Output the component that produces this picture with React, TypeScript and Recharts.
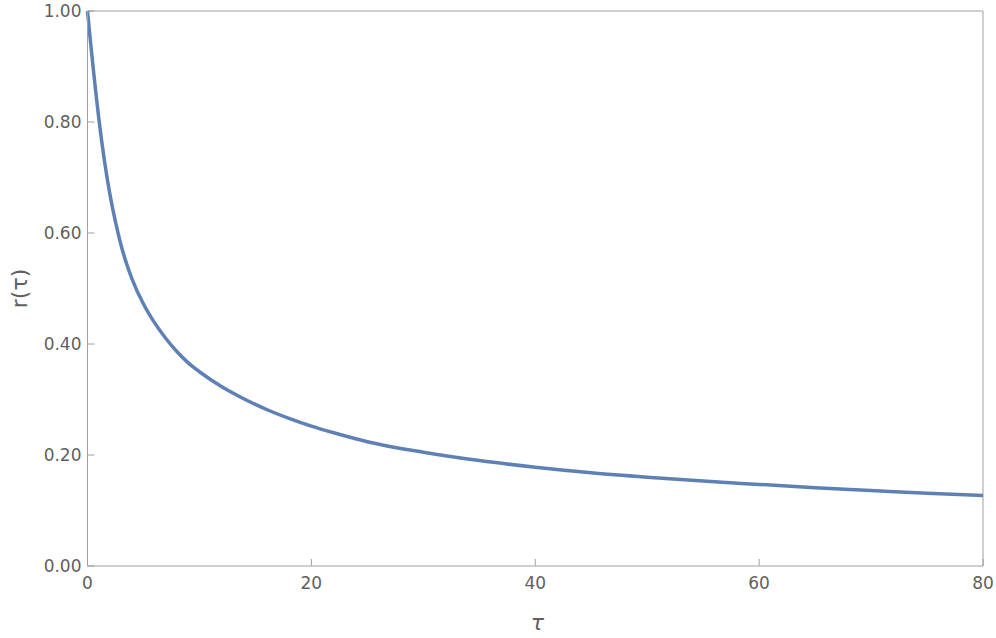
import React from "react";
import {
  LineChart,
  Line,
  XAxis,
  YAxis,
  ReferenceLine,
  Label,
} from "recharts";

// values
const tau = [
  0, 0.25, 0.5, 0.75, 1, 1.25, 1.5, 2, 2.5, 3, 3.5, 4, 5, 6, 7, 8, 9, 10, 12,
  14, 16, 18, 20, 22, 25, 30, 35, 40, 45, 50, 55, 60, 65, 70, 75, 80,
];
const r = [
  1.0, 0.948, 0.899, 0.852, 0.808, 0.768, 0.732, 0.67, 0.62, 0.578, 0.544,
  0.516, 0.472, 0.438, 0.41, 0.386, 0.366, 0.35, 0.323, 0.301, 0.282, 0.266,
  0.252, 0.24, 0.224, 0.205, 0.19, 0.178, 0.168, 0.16, 0.153, 0.147, 0.141,
  0.136, 0.131, 0.127,
];
const xTicks = [0, 20, 40, 60, 80];
const yTicks = [0, 0.2, 0.4, 0.6, 0.8, 1.0];

const data = tau.map((t, i) => ({ tau: t, r: r[i] }));

const AXIS = "#a0a0a0";
const TEXT = "#5f5f5f";
const FONT = "'DejaVu Sans', sans-serif";
const TICK_LEN = 7;
const X_MARGIN = 11;
const Y_MARGIN = 6;

const XTick = (props: any) => {
  const { x, y, payload } = props;
  const axisY = y - X_MARGIN;
  return (
    <g>
      <line x1={x} x2={x} y1={axisY} y2={axisY - TICK_LEN} stroke={AXIS} />
      <text
        x={x}
        y={y}
        dy="0.73em"
        textAnchor="middle"
        fill={TEXT}
        fontSize={17}
        fontFamily={FONT}
      >
        {payload.value}
      </text>
    </g>
  );
};

const YTick = (props: any) => {
  const { x, y, payload } = props;
  const axisX = x + Y_MARGIN;
  return (
    <g>
      <line x1={axisX} x2={axisX + TICK_LEN} y1={y} y2={y} stroke={AXIS} />
      <text
        x={x}
        y={y}
        dy="0.36em"
        textAnchor="end"
        fill={TEXT}
        fontSize={17}
        fontFamily={FONT}
      >
        {payload.value.toFixed(2)}
      </text>
    </g>
  );
};

const App = () => {
  return (
    <div style={{ position: "absolute", left: 0, top: 0 }}>
      <LineChart
        width={996}
        height={638}
        data={data}
        margin={{ top: 11, right: 13, left: 0, bottom: 0 }}
      >
        <XAxis
          dataKey="tau"
          type="number"
          domain={[0, 80]}
          ticks={xTicks}
          tickSize={0}
          tickMargin={X_MARGIN}
          tick={<XTick />}
          stroke={AXIS}
          height={72}
          interval={0}
        >
          <Label
            content={(p: any) => (
              <text
                x={p.viewBox.x + p.viewBox.width / 2 + 2}
                y={p.viewBox.y + p.viewBox.height - 8}
                textAnchor="middle"
                fill={TEXT}
                fontSize={22}
                fontStyle="italic"
                fontFamily={FONT}
              >
                τ
              </text>
            )}
          />
        </XAxis>
        <YAxis
          type="number"
          domain={[0, 1]}
          ticks={yTicks}
          tickSize={0}
          tickMargin={Y_MARGIN}
          tick={<YTick />}
          stroke={AXIS}
          width={87.5}
          interval={0}
        >
          <Label
            content={(p: any) => {
              const cx = p.viewBox.x + 19;
              const cy = p.viewBox.y + p.viewBox.height / 2;
              return (
                <text
                  x={cx}
                  y={cy}
                  transform={`rotate(-90, ${cx}, ${cy})`}
                  textAnchor="middle"
                  dominantBaseline="central"
                  fill={TEXT}
                  fontSize={22}
                  fontFamily={FONT}
                >
                  r(τ)
                </text>
              );
            }}
          />
        </YAxis>
        <ReferenceLine y={1} stroke={AXIS} />
        <ReferenceLine x={80} stroke={AXIS} />
        <Line
          type="monotone"
          dataKey="r"
          stroke="#5E81B5"
          strokeWidth={3.5}
          dot={false}
          isAnimationActive={false}
        />
      </LineChart>
    </div>
  );
};

export default App;
